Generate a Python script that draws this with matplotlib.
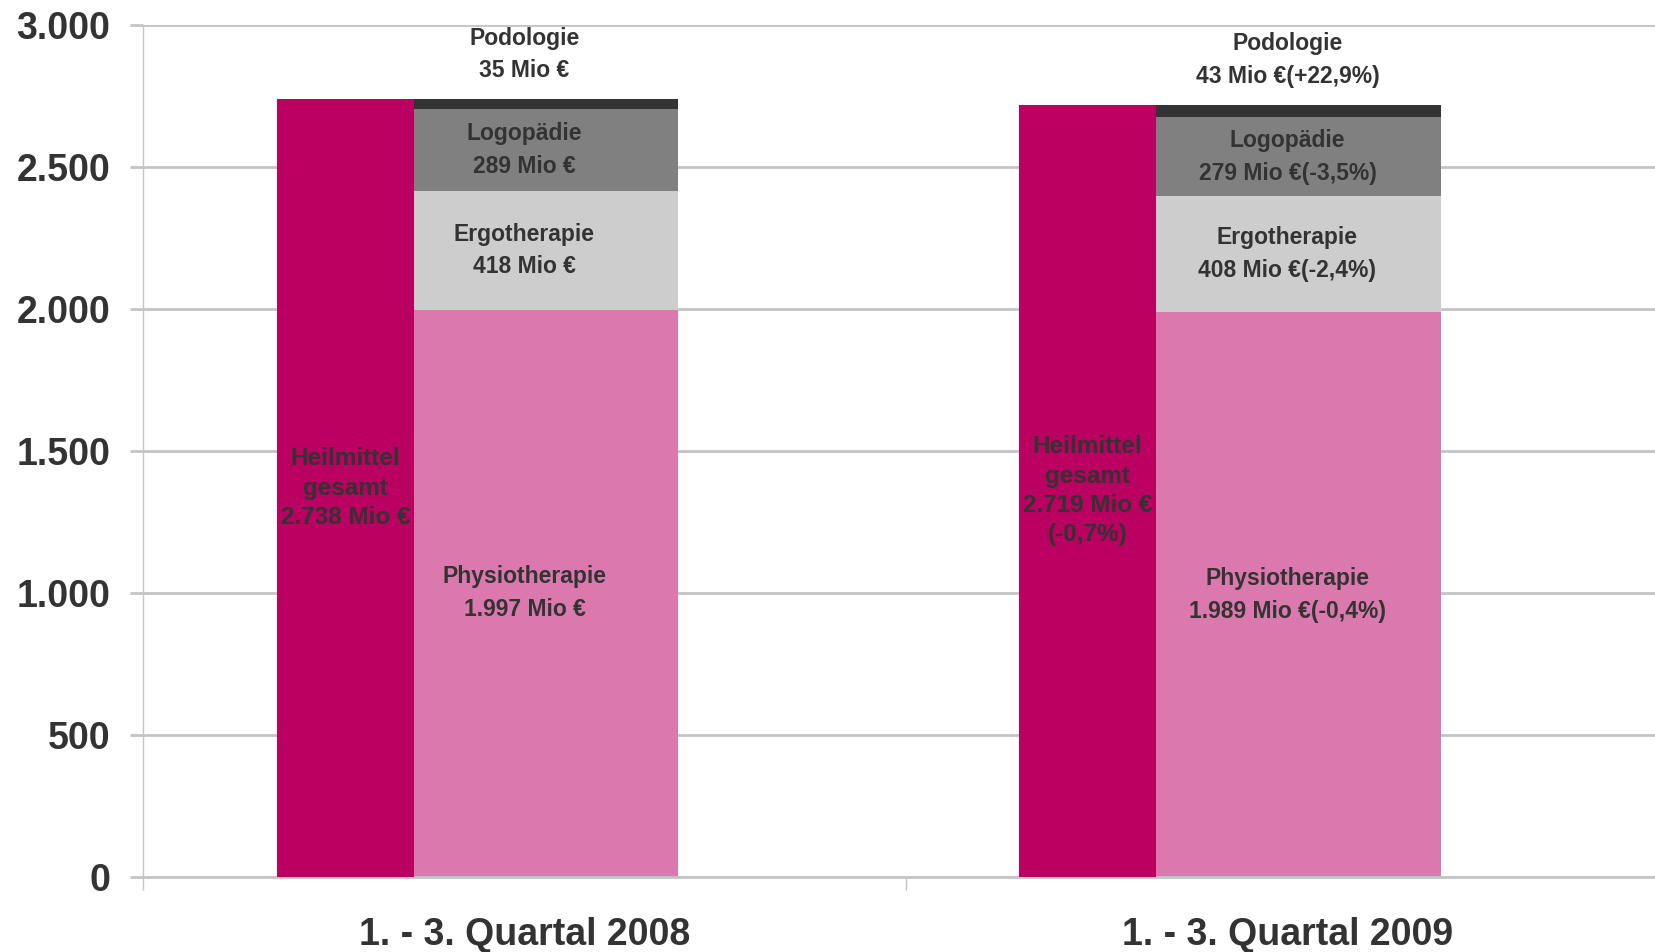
import numpy as np
import matplotlib
matplotlib.use("Agg")
import matplotlib.pyplot as plt
from matplotlib.ticker import FuncFormatter

plt.rcParams['font.family'] = ['Liberation Sans', 'DejaVu Sans']

# data (Mio €)
periods = ["1. - 3. Quartal 2008", "1. - 3. Quartal 2009"]
gesamt = [2738, 2719]
physio = [1997, 1989]
ergo = [418, 408]
logo = [289, 279]
podo = [35, 43]

gesamt_labels = ["Heilmittel\ngesamt\n2.738 Mio €",
                 "Heilmittel\ngesamt\n2.719 Mio €\n(-0,7%)"]
physio_labels = ["Physiotherapie\n1.997 Mio €",
                 "Physiotherapie\n1.989 Mio €(-0,4%)"]
ergo_labels = ["Ergotherapie\n418 Mio €",
               "Ergotherapie\n408 Mio €(-2,4%)"]
logo_labels = ["Logopädie\n289 Mio €",
               "Logopädie\n279 Mio €(-3,5%)"]
podo_labels = ["Podologie\n35 Mio €",
               "Podologie\n43 Mio €(+22,9%)"]

c_gesamt = "#BA0060"
c_physio = "#DB79AE"
c_ergo = "#CDCDCD"
c_logo = "#808080"
c_podo = "#333333"
txt = "#333333"
grid_c = "#C4C4C4"

fig = plt.figure(figsize=(16.56, 9.52), dpi=100)
ax = fig.add_axes([143/1656, 75/952, (1669-143)/1656, 852/952])

x = np.arange(len(periods))
w_stack = 0.402
w_tot = 0.18
off_tot = np.array([-0.2346, -0.262])

physio = np.array(physio)
ergo = np.array(ergo)
logo = np.array(logo)
podo = np.array(podo)

ax.bar(x, physio, w_stack, color=c_physio, zorder=2)
ax.bar(x, ergo, w_stack, bottom=physio, color=c_ergo, zorder=2)
ax.bar(x, logo, w_stack, bottom=physio + ergo, color=c_logo, zorder=2)
top = physio + ergo + logo
ax.bar(x, podo, w_stack, bottom=top, color=c_podo, zorder=2)
ax.bar(x + off_tot, gesamt, w_tot, color=c_gesamt, zorder=3)

fs = 16.5
ls = 1.55
for i in range(len(periods)):
    ax.text(x[i], physio[i] / 2, physio_labels[i], ha='center', va='center',
            fontsize=fs, fontweight='bold', color=txt, linespacing=ls, zorder=4)
    ax.text(x[i], physio[i] + ergo[i] / 2, ergo_labels[i], ha='center', va='center',
            fontsize=fs, fontweight='bold', color=txt, linespacing=ls, zorder=4)
    ax.text(x[i], physio[i] + ergo[i] + logo[i] / 2, logo_labels[i], ha='center',
            va='center', fontsize=fs, fontweight='bold', color=txt,
            linespacing=ls, zorder=4)
    ax.annotate(podo_labels[i], (x[i], top[i] + podo[i]), xytext=(0, 12),
                textcoords='offset points', ha='center', va='bottom',
                fontsize=fs, fontweight='bold', color=txt, linespacing=ls,
                zorder=4)
    ax.text(x[i] + off_tot[i], gesamt[i] / 2, gesamt_labels[i], ha='center',
            va='center', fontsize=17.5, fontweight='bold', color=txt,
            linespacing=1.35, zorder=4)

ax.set_xlim(-0.5, 1.5)
ax.set_ylim(0, 3000)
ax.set_yticks(np.arange(0, 3001, 500))
ax.yaxis.set_major_formatter(FuncFormatter(lambda v, p: f"{int(v):,}".replace(",", ".")))
ax.grid(axis='y', color=grid_c, linewidth=2, zorder=0)
ax.set_axisbelow(True)

ax.set_xticks(x)
ax.set_xticklabels(periods)
ax.set_xticks([-0.5, 0.5, 1.5], minor=True)
ax.tick_params(axis='x', which='major', length=0, pad=29, labelsize=27,
               labelcolor=txt)
ax.tick_params(axis='x', which='minor', length=9.5, width=1, color=grid_c)
ax.tick_params(axis='y', length=9.5, width=2, color=grid_c, pad=14,
               labelsize=27, labelcolor=txt)
for lab in ax.get_xticklabels() + ax.get_yticklabels():
    lab.set_fontweight('bold')

for s in ['top', 'right']:
    ax.spines[s].set_visible(False)
ax.spines['left'].set_color(grid_c)
ax.spines['left'].set_linewidth(1)
ax.spines['bottom'].set_color(grid_c)
ax.spines['bottom'].set_linewidth(2)

fig.savefig("out.png", dpi=100)
